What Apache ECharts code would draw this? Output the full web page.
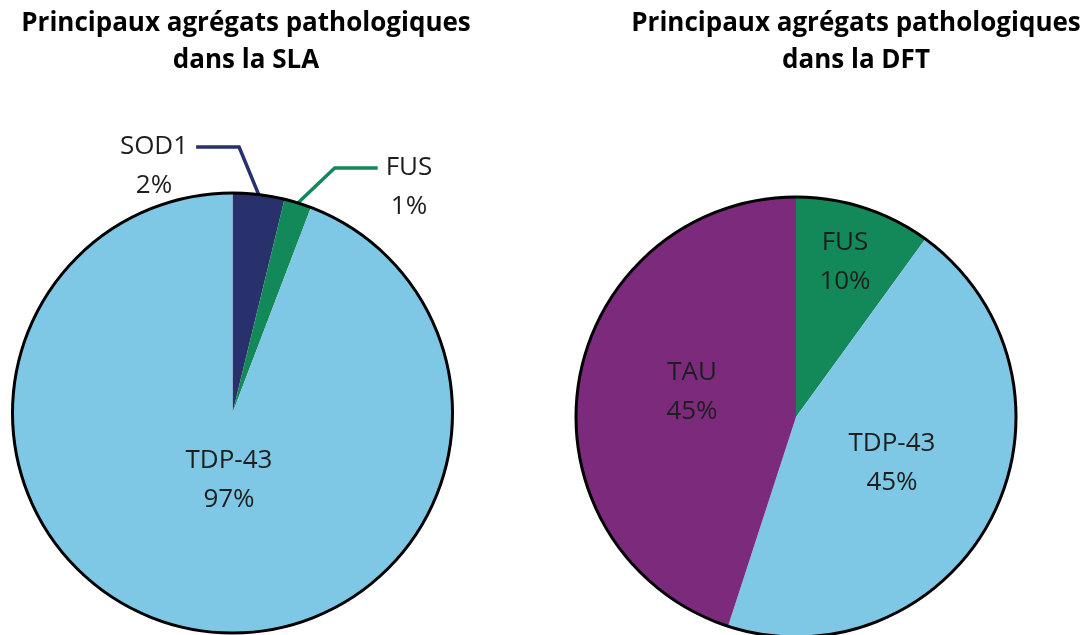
<!DOCTYPE html>
<html>
<head>
<meta charset="utf-8">
<script src="https://cdn.jsdelivr.net/npm/echarts@6/dist/echarts.min.js"></script>
<style>
  html, body { margin: 0; padding: 0; background: #fff; }
  #chart { width: 1086px; height: 635px; }
</style>
</head>
<body>
<div id="chart"></div>
<script>
// ---- Data ----
const slaTitle = 'Principaux agrégats pathologiques\ndans la SLA';
const dftTitle = 'Principaux agrégats pathologiques\ndans la DFT';

const slaCategories = ['SOD1', 'FUS', 'TDP-43'];
const slaValues = [3.8, 2.0, 94.2];          // slice sizes as drawn
const slaPercentLabels = ['2%', '1%', '97%']; // percentages printed on the chart

const dftCategories = ['FUS', 'TDP-43', 'TAU'];
const dftValues = [10, 45, 45];
const dftPercentLabels = ['10%', '45%', '45%'];

// ---- Styles ----
const colors = {
  'SOD1': '#28316c',
  'FUS': '#13895a',
  'TDP-43': '#7ec8e5',
  'TAU': '#7b2a7c'
};
const FONT = '"Open Sans", "Noto Sans", sans-serif';
const R = 220;
const slaCenter = [232.5, 413];
const dftCenter = [796, 417];

// label placements (layout only)
const slaLabelPos = [
  { x: 154, y: 147 },
  { x: 409, y: 168 },
  { x: 229, y: 480 }
];
const dftLabelPos = [
  { x: 845, y: 262 },
  { x: 892, y: 463 },
  { x: 692, y: 392 }
];

function buildData(cats, vals, pcts, outsideSet) {
  return cats.map((c, i) => {
    const outside = outsideSet.indexOf(c) >= 0;
    const label = {
      // outside labels get an empty leading line so the leader meets the name line
      formatter: (outside ? '\n' : '') + c + '\n' + pcts[i],
      position: outside ? 'outside' : 'inside'
    };
    if (outside) {
      label.padding = [0, 8];
      label.backgroundColor = 'rgba(255,255,255,0)';
    }
    return {
      name: c,
      value: vals[i],
      itemStyle: { color: colors[c] },
      label: label,
      labelLine: { show: outside, length: 10, length2: 43,
        lineStyle: { color: colors[c], width: 3.5 } }
    };
  });
}

const labelBase = {
  show: true,
  fontFamily: FONT,
  fontSize: 26,
  lineHeight: 39,
  color: '#1e1e1e',
  align: 'center'
};

function outline(center) {
  return {
    type: 'pie',
    center: center,
    radius: R,
    silent: true,
    z: 5,
    animation: false,
    label: { show: false },
    labelLine: { show: false },
    emphasis: { disabled: true },
    itemStyle: { color: 'rgba(0,0,0,0)', borderColor: '#000', borderWidth: 3 },
    data: [{ value: 1, name: '' }]
  };
}

const titleStyle = { fontFamily: FONT, fontWeight: 'bold', fontSize: 26, lineHeight: 37, color: '#000' };

const option = {
  animation: false,
  title: [
    { text: slaTitle, left: 246, top: 5, padding: 0, textAlign: 'center', textStyle: titleStyle },
    { text: dftTitle, left: 856, top: 5, padding: 0, textAlign: 'center', textStyle: titleStyle }
  ],
  series: [
    {
      type: 'pie',
      center: slaCenter,
      radius: R,
      startAngle: 90,
      clockwise: true,
      avoidLabelOverlap: false,
      emphasis: { disabled: true },
      itemStyle: { borderWidth: 0 },
      label: Object.assign({}, labelBase, { position: 'outside' }),
      labelLine: { show: true },
      labelLayout: function (p) {
        const pos = slaLabelPos[p.dataIndex];
        return { x: pos.x, y: pos.y, align: 'center', verticalAlign: 'middle' };
      },
      data: buildData(slaCategories, slaValues, slaPercentLabels, ['SOD1', 'FUS'])
    },
    outline(slaCenter),
    {
      type: 'pie',
      center: dftCenter,
      radius: R,
      startAngle: 90,
      clockwise: true,
      avoidLabelOverlap: false,
      emphasis: { disabled: true },
      itemStyle: { borderWidth: 0 },
      label: Object.assign({}, labelBase, { position: 'inside' }),
      labelLine: { show: false },
      labelLayout: function (p) {
        const pos = dftLabelPos[p.dataIndex];
        return { x: pos.x, y: pos.y, align: 'center', verticalAlign: 'middle' };
      },
      data: buildData(dftCategories, dftValues, dftPercentLabels, [])
    },
    outline(dftCenter)
  ]
};

const chart = echarts.init(document.getElementById('chart'), null, { renderer: 'canvas' });
chart.setOption(option);
</script>
</body>
</html>
